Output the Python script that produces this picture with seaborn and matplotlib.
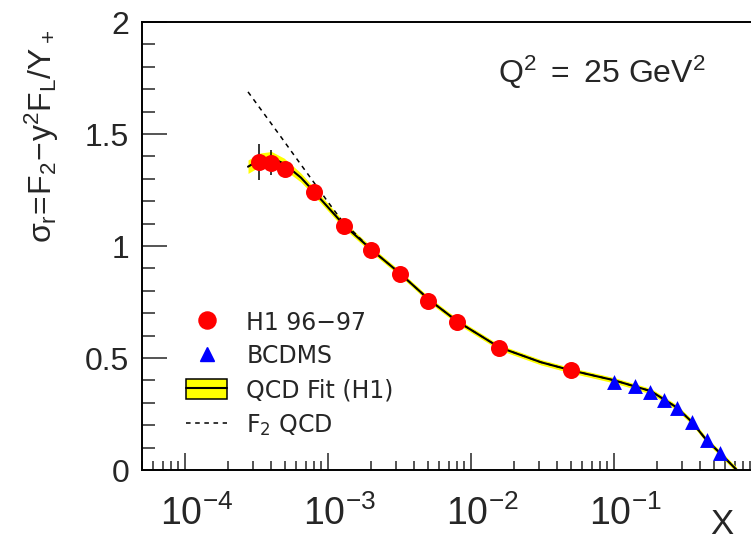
import numpy as np
import pandas as pd
import matplotlib
matplotlib.use('Agg')
import matplotlib.pyplot as plt
import matplotlib.transforms as mtransforms
from matplotlib.patches import Patch
from matplotlib.lines import Line2D
from matplotlib.ticker import LogLocator, NullFormatter, MultipleLocator
import seaborn as sns

# ── Data ──────────────────────────────────────────────────────────────────────
h1_x   = [3.3e-4, 4.0e-4, 5.0e-4, 8.0e-4, 1.3e-3, 2.0e-3, 3.2e-3, 5.0e-3, 8.0e-3, 1.58e-2, 5.0e-2]
h1_y   = [1.376, 1.372, 1.344, 1.243, 1.091, 0.984, 0.877, 0.753, 0.659, 0.543, 0.445]
h1_err = [0.08, 0.055, 0.03, 0.025, 0.02, 0.02, 0.02, 0.02, 0.02, 0.02, 0.02]

bcdms_x = [0.1, 0.14, 0.18, 0.225, 0.275, 0.35, 0.45, 0.55]
bcdms_y = [0.395, 0.375, 0.349, 0.312, 0.275, 0.215, 0.134, 0.074]

fit_x  = [2.77e-4, 3.36e-4, 4.04e-4, 4.96e-4, 6.5e-4, 8.0e-4, 1.31e-3, 2.02e-3, 3.21e-3,
          5.12e-3, 8.04e-3, 1.58e-2, 3.1e-2, 5.03e-2, 0.1, 0.182, 0.273, 0.348, 0.445,
          0.553, 0.725]
fit_y  = [1.354, 1.385, 1.394, 1.367, 1.305, 1.243, 1.091, 0.984, 0.877,
          0.760, 0.664, 0.548, 0.481, 0.445, 0.401, 0.352, 0.281, 0.218, 0.134,
          0.076, 0.0]
fit_err = [0.03, 0.03, 0.028, 0.025, 0.02, 0.018, 0.015, 0.013, 0.012,
           0.012, 0.012, 0.012, 0.012, 0.012, 0.012, 0.012, 0.012, 0.012, 0.012,
           0.012, 0.012]

f2_x = [2.77e-4, 3.59e-4, 4.72e-4, 6.2e-4, 7.53e-4, 1.0e-3, 1.24e-3, 2.02e-3, 3.21e-3,
        5.12e-3, 8.04e-3, 1.58e-2, 3.1e-2, 5.03e-2, 0.1, 0.182, 0.273, 0.348, 0.445,
        0.553, 0.725]
f2_y = [1.688, 1.590, 1.486, 1.381, 1.307, 1.198, 1.118, 0.984, 0.877,
        0.760, 0.664, 0.548, 0.481, 0.445, 0.401, 0.352, 0.281, 0.218, 0.134,
        0.076, 0.0]

fit = pd.DataFrame({'x': fit_x, 'y': fit_y, 'err': fit_err})
f2  = pd.DataFrame({'x': f2_x, 'y': f2_y})
h1  = pd.DataFrame({'x': h1_x, 'y': h1_y, 'err': h1_err})
bc  = pd.DataFrame({'x': bcdms_x, 'y': bcdms_y})

# ── Style ─────────────────────────────────────────────────────────────────────
sns.set_style('ticks')
plt.rcParams['font.family'] = ['Liberation Sans', 'DejaVu Sans']
plt.rcParams['mathtext.fontset'] = 'custom'
plt.rcParams['mathtext.rm'] = 'Liberation Sans'
plt.rcParams['mathtext.it'] = 'Liberation Sans'
plt.rcParams['mathtext.bf'] = 'Liberation Sans:bold'

fig = plt.figure(figsize=(7.51, 5.43), dpi=100)
ax = fig.add_axes([141.7 / 751, 73 / 543, 615 / 751, 448 / 543])

# QCD fit band + line
ax.fill_between(fit['x'], fit['y'] - fit['err'], fit['y'] + fit['err'],
                color='#FFFF00', linewidth=0, zorder=1)
sns.lineplot(data=fit, x='x', y='y', ax=ax, color='black', linewidth=1.5,
             sort=False, estimator=None, zorder=2)
sns.lineplot(data=f2, x='x', y='y', ax=ax, color='black', linewidth=1.1,
             linestyle=(0, (3, 3)), sort=False, estimator=None, zorder=3)

# data points
ax.errorbar(h1['x'], h1['y'], yerr=h1['err'], fmt='none', ecolor='black',
            elinewidth=1.1, capsize=0, zorder=4)
sns.scatterplot(data=h1, x='x', y='y', ax=ax, color='#FF0000', s=150,
                linewidth=0, zorder=5, legend=False)
sns.scatterplot(data=bc, x='x', y='y', ax=ax, color='#0000FF', marker='^', s=115,
                linewidth=0, zorder=5, legend=False)

# ── Axes ──────────────────────────────────────────────────────────────────────
ax.set_xscale('log')
ax.set_xlim(5e-5, 1.0)
ax.set_ylim(0, 2)
ax.set_xticks([1e-4, 1e-3, 1e-2, 1e-1])
ax.xaxis.set_minor_locator(LogLocator(base=10, subs=np.arange(2, 10), numticks=20))
ax.xaxis.set_minor_formatter(NullFormatter())
ax.yaxis.set_major_locator(MultipleLocator(0.5))
ax.yaxis.set_minor_locator(MultipleLocator(0.1))
ax.set_yticks([0, 0.5, 1, 1.5, 2])
ax.set_yticklabels(['0', '0.5', '1', '1.5', '2'])

ax.tick_params(axis='x', which='major', direction='in', length=12.5, width=1.1,
               labelsize=27, pad=18, top=False)
ax.tick_params(axis='x', which='minor', direction='in', length=6.2, width=1.1, top=False)
ax.tick_params(axis='y', which='major', direction='in', length=18, width=1.1,
               labelsize=23, pad=9, right=False)
ax.tick_params(axis='y', which='minor', direction='in', length=9, width=1.1, right=False)
for s in ax.spines.values():
    s.set_linewidth(1.4)
    s.set_color('black')

# "10" centred on the tick, exponent hanging to the right
shift = mtransforms.ScaledTranslation(12 / 100, 0, fig.dpi_scale_trans)
for lab in ax.get_xticklabels():
    lab.set_transform(lab.get_transform() + shift)

ax.set_xlabel('X', fontsize=25)
ax.xaxis.label.set_va('baseline')
ax.xaxis.set_label_coords(0.944, -0.143)
ax.set_ylabel(r'$\sigma_{\rm r}\!=\!{\rm F_2}\!-\!{\rm y^2F_L}/{\rm Y_+}$', fontsize=23)
ax.yaxis.label.set_va('center')
ax.yaxis.set_label_coords(-0.163, 0.745)

ax.text(0.748, 0.888, r'$\mathregular{Q^2\ =\ 25\ GeV^2}$', transform=ax.transAxes,
        ha='center', va='center', fontsize=23)

# ── Legend ────────────────────────────────────────────────────────────────────
handles = [
    Line2D([], [], marker='o', color='#FF0000', linestyle='none', markersize=12.3),
    Line2D([], [], marker='^', color='#0000FF', linestyle='none', markersize=10.7),
    (Patch(facecolor='#FFFF00', edgecolor='black', linewidth=1.1),
     Line2D([], [], color='black', linewidth=1.5)),
    Line2D([], [], color='black', linewidth=1.1, linestyle=(0, (3, 3))),
]
labels = ['H1 96\u221297', 'BCDMS', 'QCD Fit (H1)', r'F$_{\mathregular{2}}$ QCD']
leg = ax.legend(handles, labels, loc='upper left', bbox_to_anchor=(0.072, 0.356),
                frameon=False, handlelength=1.75, handleheight=0.95,
                handletextpad=0.8, labelspacing=0.42, borderpad=0, borderaxespad=0,
                prop={'family': 'DejaVu Sans', 'size': 17})

fig.savefig('out.png', dpi=100)
